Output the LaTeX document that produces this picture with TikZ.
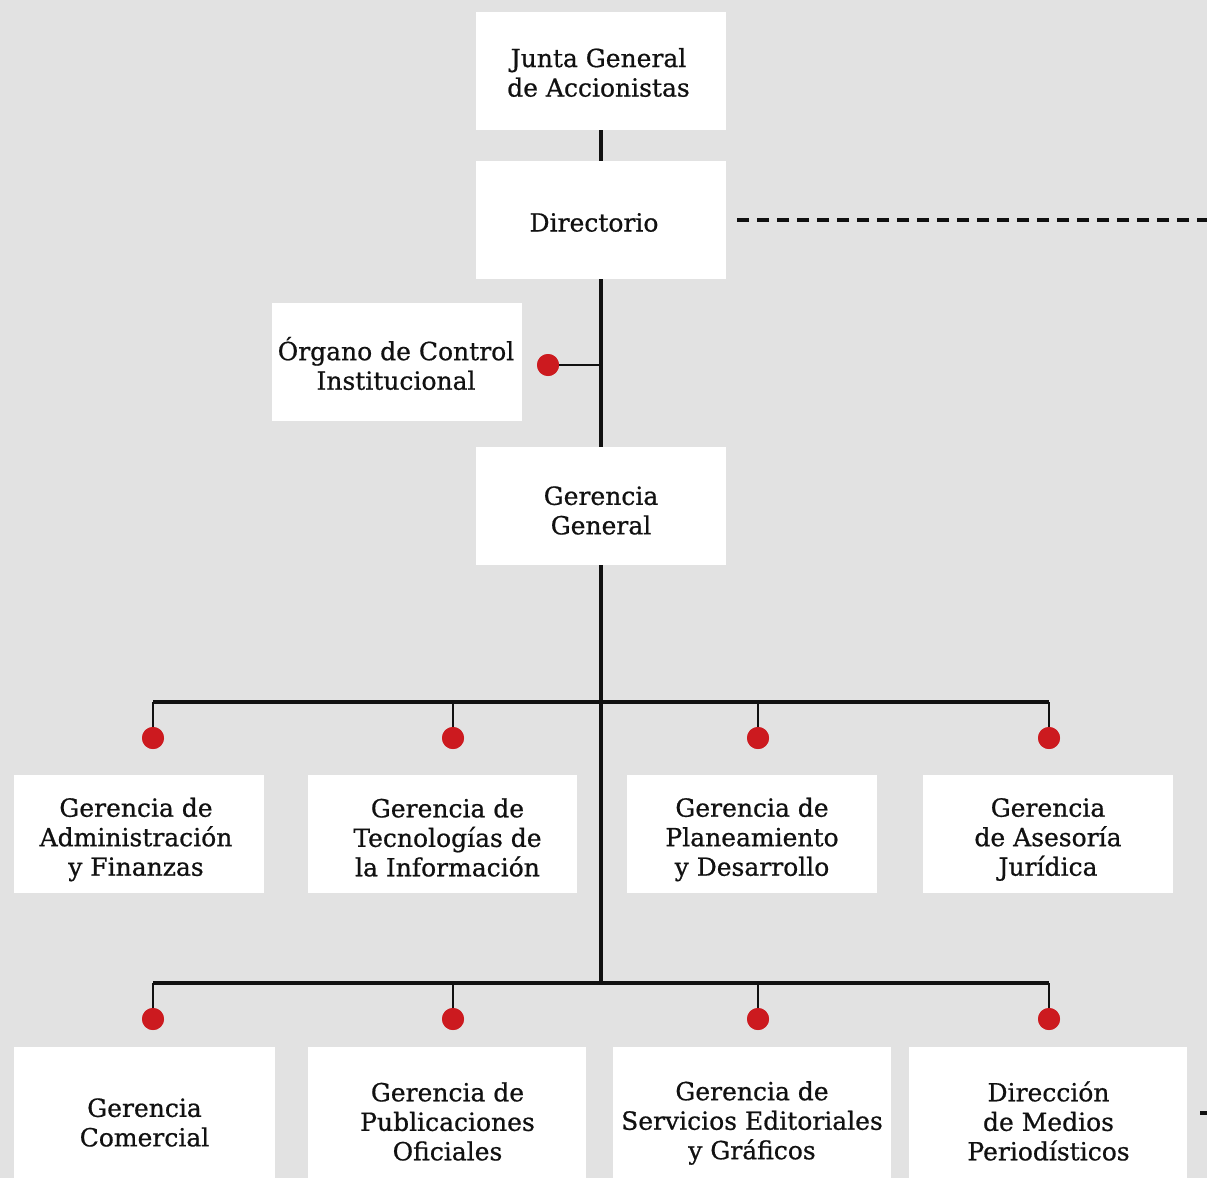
\documentclass[tikz,border=0pt]{standalone}
\usepackage{fontspec}
\setmainfont[FakeBold=0.7]{DejaVu Serif}
\definecolor{bg}{HTML}{E2E2E2}
\definecolor{dotred}{HTML}{CC1A1F}
\definecolor{ink}{HTML}{111111}
\tikzset{
  box/.style={fill=white, draw=none, inner sep=0pt},
  lbl/.style={text=ink, align=center, inner sep=0pt,
    font=\fontsize{25}{29.5}\selectfont},
  dotn/.style={circle, fill=dotred, draw=none, minimum size=22pt, inner sep=0pt},
  mainline/.style={line width=3.2pt, draw=ink},
  thinline/.style={line width=1.6pt, draw=ink},
  dashline/.style={line width=3.4pt, draw=ink, dash pattern=on 12pt off 8pt}
}
\begin{document}
\begin{tikzpicture}[x=1pt,y=-1pt]
\useasboundingbox (0,0) rectangle (1207,1178);
\clip (0,0) rectangle (1207,1178);
\fill[bg] (0,0) rectangle (1207,1178);

% top boxes
\node[box, minimum width=250pt, minimum height=118pt] (junta) at (601,71) {};
\node[box, minimum width=250pt, minimum height=118pt] (dir) at (601,220) {};
\node[box, minimum width=250pt, minimum height=118pt] (oci) at (397,362) {};
\node[box, minimum width=250pt, minimum height=118pt] (gg) at (601,506) {};
\node[lbl] (tjunta) at (598.5,72.5) {Junta General\\de Accionistas};
\node[lbl] (tdir) at (594,222.5) {Directorio};
\node[lbl] (toci) at (396,363.5) {Órgano de Control\\Institucional};
\node[lbl] (tgg) at (601,510.5) {Gerencia\\General};

% row 1
\node[box, minimum width=250pt, minimum height=118pt] (r1a) at (139,834) {};
\node[box, minimum width=269pt, minimum height=118pt] (r1b) at (442.5,834) {};
\node[box, minimum width=250pt, minimum height=118pt] (r1c) at (752,834) {};
\node[box, minimum width=250pt, minimum height=118pt] (r1d) at (1048,834) {};
\node[lbl] (tr1a) at (136,839.5) {Gerencia de\\Administración\\y Finanzas};
\node[lbl] (tr1b) at (447.5,837.5) {Gerencia de\\Tecnologías de\\la Información};
\node[lbl] (tr1c) at (752,839.5) {Gerencia de\\Planeamiento\\y Desarrollo};
\node[lbl] (tr1d) at (1048,839.5) {Gerencia\\de Asesoría\\Jurídica};

% row 2
\node[box, minimum width=261pt, minimum height=150pt] (r2a) at (144.5,1122) {};
\node[box, minimum width=278pt, minimum height=150pt] (r2b) at (447,1122) {};
\node[box, minimum width=278pt, minimum height=150pt] (r2c) at (752,1122) {};
\node[box, minimum width=278pt, minimum height=150pt] (r2d) at (1048,1122) {};
\node[lbl] (tr2a) at (144.5,1122.5) {Gerencia\\Comercial};
\node[lbl] (tr2b) at (447.5,1121.5) {Gerencia de\\Publicaciones\\Oficiales};
\node[lbl] (tr2c) at (752,1123) {Gerencia de\\Servicios Editoriales\\y Gráficos};
\node[lbl] (tr2d) at (1048.5,1121) {Dirección\\de Medios\\Periodísticos};

% dots
\node[dotn] (d0) at (548,365) {};
\node[dotn] (d1a) at (153,738) {};
\node[dotn] (d1b) at (453,738) {};
\node[dotn] (d1c) at (758,738) {};
\node[dotn] (d1d) at (1049,738) {};
\node[dotn] (d2a) at (153,1019) {};
\node[dotn] (d2b) at (453,1019) {};
\node[dotn] (d2c) at (758,1019) {};
\node[dotn] (d2d) at (1049,1019) {};

% coordinates
\coordinate (spine1) at (601,365);
\coordinate (bus1) at (601,702);
\coordinate (bus2) at (601,983);
\coordinate (dashA) at (737,220);
\coordinate (dashB) at (1207,220);
\coordinate (dashC) at (1200,1113);
\coordinate (dashD) at (1207,1113);

% connectors
\draw[mainline] (junta.south) -- (dir.north);
\draw[mainline] (dir.south) -- (gg.north);
\draw[mainline] (gg.south) -- (bus2);
\draw[thinline] (d0.center) -- (spine1);
\draw[dashline] (dashA) -- (dashB);
\draw[line width=3.4pt, draw=ink] (dashC) -- (dashD);

\draw[mainline] (d1a.center |- bus1) -- (d1d.center |- bus1);
\draw[mainline] (d2a.center |- bus2) -- (d2d.center |- bus2);
\foreach \d in {d1a,d1b,d1c,d1d} {\draw[thinline] (\d.center |- bus1) -- (\d.center);}
\foreach \d in {d2a,d2b,d2c,d2d} {\draw[thinline] (\d.center |- bus2) -- (\d.center);}
% redraw dots on top
\foreach \d in {d0,d1a,d1b,d1c,d1d,d2a,d2b,d2c,d2d} {\fill[dotred] (\d) circle (11pt);}
\end{tikzpicture}
\end{document}
